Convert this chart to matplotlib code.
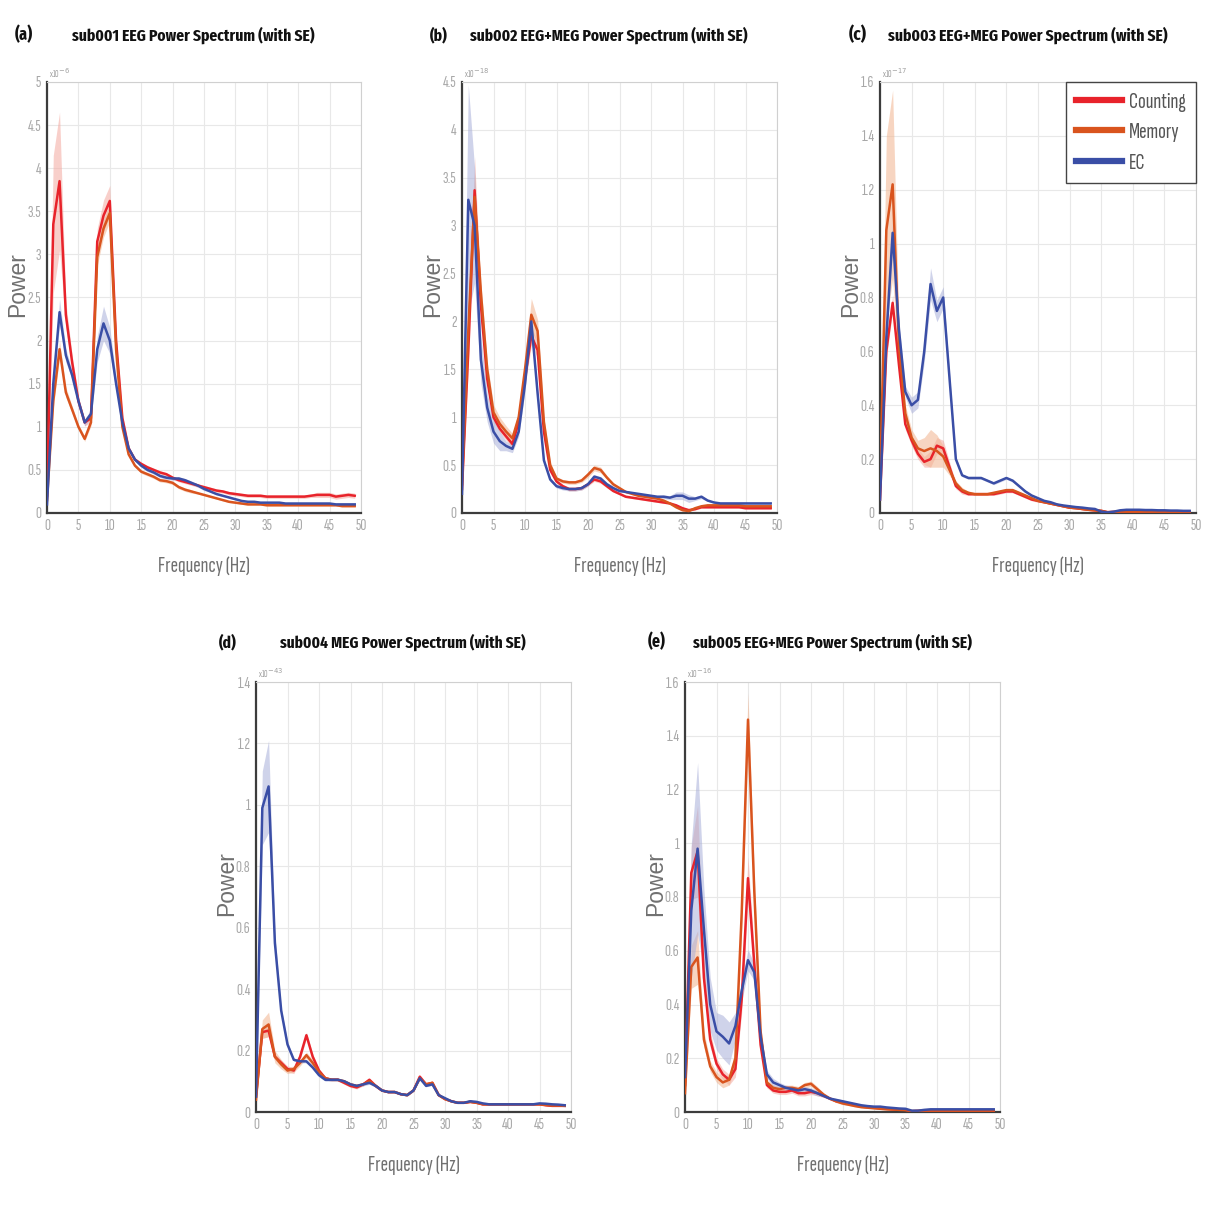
import numpy as np
import matplotlib
matplotlib.use("Agg")
import matplotlib.pyplot as plt
from matplotlib import font_manager as fm

# ---------- font selection (condensed faces if available) ----------
_weights = {}
for f in fm.fontManager.ttflist:
    w = f.weight
    if isinstance(w, str):
        w = fm.weight_dict.get(w, 400)
    _weights.setdefault(f.name, set()).add(int(w))

_cands = ['Sofia Sans Extra Condensed', 'Fira Sans Extra Condensed', 'Barlow Condensed', 'Saira Extra Condensed',
          'Roboto Condensed', 'Archivo Narrow', 'Fira Sans Condensed', 'PT Sans Narrow', 'Liberation Sans Narrow',
          'Liberation Sans', 'DejaVu Sans']


def pick(bold):
    for n in _cands:
        ws = _weights.get(n)
        if not ws:
            continue
        if bold and max(ws) >= 700:
            return n
        if not bold and min(ws) <= 400:
            return n
    return 'DejaVu Sans'


BOLDF = pick(True)
LIGHTF = pick(False)
LIGHTW = 300 if LIGHTF in _weights and min(_weights[LIGHTF]) <= 300 else 400
REG = 'Liberation Sans' if 'Liberation Sans' in _weights else 'DejaVu Sans'

freq = list(range(50))
conditions = ["Counting", "Memory", "EC"]

# ---------------- sub001 (x1e-6) ----------------
cnt_a = [0.20, 3.35, 3.85, 2.30, 1.75, 1.30, 1.05, 1.10, 3.15, 3.45, 3.62, 2.00, 1.10, 0.75, 0.62, 0.57, 0.53, 0.50, 0.47, 0.45,
         0.41, 0.38, 0.36, 0.34, 0.32, 0.30, 0.28, 0.26, 0.25, 0.23, 0.22, 0.21, 0.20, 0.20, 0.20, 0.19, 0.19, 0.19, 0.19, 0.19,
         0.19, 0.19, 0.20, 0.21, 0.21, 0.21, 0.19, 0.20, 0.21, 0.20]
mem_a = [0.15, 1.30, 1.90, 1.40, 1.20, 1.00, 0.86, 1.05, 2.97, 3.30, 3.48, 1.90, 1.00, 0.68, 0.55, 0.48, 0.45, 0.42, 0.38, 0.37,
         0.35, 0.30, 0.27, 0.25, 0.23, 0.21, 0.19, 0.17, 0.15, 0.13, 0.12, 0.11, 0.10, 0.10, 0.10, 0.09, 0.09, 0.09, 0.09, 0.09,
         0.09, 0.09, 0.09, 0.09, 0.09, 0.09, 0.09, 0.08, 0.08, 0.08]
ec_a = [0.10, 1.50, 2.33, 1.83, 1.60, 1.30, 1.05, 1.15, 1.90, 2.20, 2.00, 1.50, 1.05, 0.75, 0.62, 0.55, 0.50, 0.47, 0.43, 0.41,
        0.40, 0.40, 0.38, 0.35, 0.32, 0.28, 0.25, 0.22, 0.20, 0.18, 0.16, 0.14, 0.13, 0.13, 0.12, 0.12, 0.12, 0.12, 0.11, 0.11,
        0.11, 0.11, 0.11, 0.11, 0.11, 0.11, 0.10, 0.10, 0.10, 0.10]
se_cnt_a = [0.05, 0.80, 0.80, 0.15, 0.08, 0.05, 0.04, 0.05, 0.15, 0.18, 0.18, 0.10, 0.05, 0.03, 0.02, 0.02, 0.02, 0.02, 0.02, 0.02,
            0.02, 0.02, 0.02, 0.02, 0.02, 0.02, 0.02, 0.02, 0.02, 0.02, 0.02, 0.02, 0.02, 0.02, 0.02, 0.02, 0.02, 0.02, 0.02, 0.02,
            0.02, 0.02, 0.02, 0.03, 0.03, 0.03, 0.03, 0.03, 0.03, 0.03]
se_mem_a = [0.02, 0.08, 0.10, 0.06, 0.04, 0.03, 0.03, 0.04, 0.10, 0.10, 0.10, 0.06, 0.03, 0.02, 0.02, 0.02, 0.02, 0.02, 0.02, 0.02,
            0.02, 0.02, 0.02, 0.02, 0.01, 0.01, 0.01, 0.01, 0.01, 0.01, 0.01, 0.01, 0.01, 0.01, 0.01, 0.01, 0.01, 0.01, 0.01, 0.01,
            0.01, 0.01, 0.01, 0.01, 0.01, 0.01, 0.01, 0.01, 0.01, 0.01]
se_ec_a = [0.02, 0.10, 0.15, 0.08, 0.05, 0.04, 0.04, 0.05, 0.15, 0.20, 0.15, 0.08, 0.04, 0.02, 0.02, 0.02, 0.02, 0.02, 0.02, 0.02,
           0.02, 0.02, 0.02, 0.02, 0.02, 0.02, 0.01, 0.01, 0.01, 0.01, 0.01, 0.01, 0.01, 0.01, 0.01, 0.01, 0.01, 0.01, 0.01, 0.01,
           0.01, 0.01, 0.01, 0.01, 0.01, 0.01, 0.01, 0.01, 0.01, 0.01]

# ---------------- sub002 (x1e-18) ----------------
cnt_b = [0.25, 1.70, 3.37, 2.17, 1.40, 1.00, 0.88, 0.80, 0.72, 0.95, 1.40, 1.85, 1.70, 0.85, 0.45, 0.33, 0.28, 0.25, 0.25, 0.26,
         0.30, 0.35, 0.33, 0.28, 0.23, 0.20, 0.17, 0.16, 0.15, 0.14, 0.13, 0.12, 0.11, 0.10, 0.08, 0.05, 0.03, 0.04, 0.06, 0.06,
         0.06, 0.06, 0.06, 0.06, 0.06, 0.05, 0.05, 0.05, 0.05, 0.05]
mem_b = [0.30, 1.90, 3.30, 2.30, 1.50, 1.05, 0.93, 0.85, 0.78, 1.00, 1.50, 2.07, 1.90, 0.95, 0.50, 0.36, 0.33, 0.32, 0.32, 0.34,
         0.40, 0.47, 0.45, 0.37, 0.30, 0.26, 0.22, 0.20, 0.18, 0.17, 0.16, 0.15, 0.13, 0.10, 0.06, 0.03, 0.02, 0.05, 0.07, 0.08,
         0.08, 0.08, 0.08, 0.08, 0.08, 0.07, 0.07, 0.07, 0.07, 0.07]
ec_b = [0.20, 3.27, 3.00, 1.60, 1.10, 0.85, 0.75, 0.70, 0.67, 0.85, 1.35, 2.00, 1.25, 0.55, 0.35, 0.28, 0.26, 0.25, 0.25, 0.26,
        0.30, 0.38, 0.36, 0.30, 0.26, 0.23, 0.22, 0.21, 0.20, 0.19, 0.18, 0.17, 0.17, 0.16, 0.18, 0.18, 0.15, 0.15, 0.17, 0.13,
        0.11, 0.10, 0.10, 0.10, 0.10, 0.10, 0.10, 0.10, 0.10, 0.10]
se_cnt_b = [0.03, 0.20, 0.35, 0.15, 0.08, 0.05, 0.04, 0.04, 0.04, 0.05, 0.08, 0.10, 0.08, 0.04, 0.02, 0.02, 0.02, 0.02, 0.02, 0.02,
            0.02, 0.02, 0.02, 0.02, 0.01, 0.01, 0.01, 0.01, 0.01, 0.01, 0.01, 0.01, 0.01, 0.01, 0.01, 0.01, 0.01, 0.01, 0.01, 0.01,
            0.01, 0.01, 0.01, 0.01, 0.01, 0.01, 0.01, 0.01, 0.01, 0.01]
se_mem_b = [0.03, 0.15, 0.25, 0.12, 0.08, 0.08, 0.07, 0.06, 0.05, 0.06, 0.10, 0.17, 0.12, 0.05, 0.03, 0.02, 0.02, 0.02, 0.02, 0.02,
            0.03, 0.03, 0.03, 0.02, 0.02, 0.01, 0.01, 0.01, 0.01, 0.01, 0.01, 0.01, 0.01, 0.01, 0.01, 0.01, 0.01, 0.01, 0.01, 0.01,
            0.01, 0.01, 0.01, 0.01, 0.01, 0.01, 0.01, 0.01, 0.01, 0.01]
se_ec_b = [0.05, 1.20, 0.60, 0.25, 0.15, 0.12, 0.10, 0.05, 0.04, 0.05, 0.08, 0.08, 0.05, 0.03, 0.02, 0.02, 0.02, 0.02, 0.02, 0.02,
           0.02, 0.02, 0.02, 0.02, 0.02, 0.01, 0.01, 0.01, 0.01, 0.01, 0.01, 0.01, 0.02, 0.02, 0.04, 0.04, 0.04, 0.02, 0.02, 0.01,
           0.01, 0.01, 0.01, 0.01, 0.01, 0.01, 0.01, 0.01, 0.01, 0.01]

# ---------------- sub003 (x1e-17) ----------------
cnt_c = [0.05, 0.60, 0.78, 0.55, 0.33, 0.27, 0.22, 0.19, 0.20, 0.25, 0.24, 0.17, 0.10, 0.08, 0.07, 0.07, 0.07, 0.07, 0.07, 0.075,
         0.08, 0.08, 0.07, 0.06, 0.05, 0.045, 0.04, 0.035, 0.03, 0.025, 0.02, 0.018, 0.015, 0.012, 0.01, 0.008, 0.003, 0.004, 0.005, 0.005,
         0.005, 0.005, 0.005, 0.005, 0.005, 0.005, 0.005, 0.005, 0.005, 0.005]
mem_c = [0.10, 1.05, 1.22, 0.62, 0.37, 0.28, 0.24, 0.23, 0.24, 0.23, 0.21, 0.16, 0.11, 0.085, 0.075, 0.07, 0.07, 0.07, 0.075, 0.08,
         0.085, 0.085, 0.075, 0.065, 0.055, 0.045, 0.04, 0.035, 0.03, 0.025, 0.02, 0.018, 0.015, 0.012, 0.01, 0.008, 0.003, 0.004, 0.005, 0.005,
         0.005, 0.005, 0.005, 0.005, 0.005, 0.005, 0.005, 0.005, 0.005, 0.005]
ec_c = [0.05, 0.65, 1.04, 0.68, 0.45, 0.40, 0.42, 0.60, 0.85, 0.75, 0.80, 0.50, 0.20, 0.14, 0.13, 0.13, 0.13, 0.12, 0.11, 0.12,
        0.13, 0.12, 0.10, 0.08, 0.065, 0.055, 0.045, 0.04, 0.032, 0.028, 0.025, 0.022, 0.02, 0.017, 0.015, 0.005, 0.002, 0.005, 0.01, 0.012,
        0.012, 0.012, 0.011, 0.011, 0.01, 0.01, 0.009, 0.009, 0.008, 0.008]
se_cnt_c = [0.01, 0.03, 0.03, 0.02, 0.02, 0.02, 0.02, 0.02, 0.03, 0.03, 0.03, 0.02, 0.01, 0.01, 0.005, 0.005, 0.005, 0.005, 0.005, 0.005,
            0.005, 0.005, 0.005, 0.005, 0.005, 0.005, 0.003, 0.003, 0.003, 0.003, 0.003, 0.003, 0.003, 0.003, 0.003, 0.003, 0.003, 0.003, 0.003, 0.003,
            0.003, 0.003, 0.003, 0.003, 0.003, 0.003, 0.003, 0.003, 0.003, 0.003]
se_mem_c = [0.03, 0.35, 0.35, 0.08, 0.03, 0.03, 0.03, 0.05, 0.07, 0.06, 0.04, 0.02, 0.01, 0.01, 0.005, 0.005, 0.005, 0.005, 0.005, 0.005,
            0.005, 0.005, 0.005, 0.005, 0.005, 0.005, 0.003, 0.003, 0.003, 0.003, 0.003, 0.003, 0.003, 0.003, 0.003, 0.003, 0.003, 0.003, 0.003, 0.003,
            0.003, 0.003, 0.003, 0.003, 0.003, 0.003, 0.003, 0.003, 0.003, 0.003]
se_ec_c = [0.01, 0.04, 0.05, 0.03, 0.02, 0.03, 0.03, 0.04, 0.06, 0.04, 0.04, 0.02, 0.01, 0.005, 0.005, 0.005, 0.005, 0.005, 0.005, 0.005,
           0.005, 0.005, 0.005, 0.005, 0.003, 0.003, 0.003, 0.003, 0.003, 0.003, 0.003, 0.003, 0.003, 0.003, 0.003, 0.003, 0.003, 0.003, 0.003, 0.003,
           0.003, 0.003, 0.003, 0.003, 0.003, 0.003, 0.003, 0.003, 0.003, 0.003]

# ---------------- sub004 (x1e-43) ----------------
cnt_d = [0.05, 0.26, 0.265, 0.18, 0.16, 0.14, 0.135, 0.18, 0.25, 0.18, 0.135, 0.11, 0.105, 0.105, 0.095, 0.085, 0.08, 0.09, 0.105, 0.085,
         0.07, 0.065, 0.065, 0.058, 0.055, 0.07, 0.115, 0.09, 0.095, 0.055, 0.042, 0.035, 0.03, 0.03, 0.033, 0.03, 0.025, 0.025, 0.025, 0.025,
         0.025, 0.025, 0.025, 0.025, 0.025, 0.025, 0.022, 0.02, 0.02, 0.02]
mem_d = [0.04, 0.27, 0.285, 0.18, 0.155, 0.135, 0.14, 0.16, 0.185, 0.16, 0.13, 0.11, 0.105, 0.105, 0.10, 0.09, 0.085, 0.09, 0.10, 0.085,
         0.07, 0.065, 0.065, 0.058, 0.055, 0.07, 0.11, 0.09, 0.095, 0.055, 0.042, 0.035, 0.03, 0.03, 0.033, 0.03, 0.025, 0.025, 0.025, 0.025,
         0.025, 0.025, 0.025, 0.025, 0.025, 0.025, 0.023, 0.021, 0.021, 0.02]
ec_d = [0.05, 0.99, 1.06, 0.55, 0.33, 0.22, 0.17, 0.165, 0.165, 0.145, 0.12, 0.105, 0.105, 0.105, 0.10, 0.09, 0.085, 0.09, 0.095, 0.085,
        0.07, 0.065, 0.065, 0.058, 0.055, 0.07, 0.11, 0.085, 0.09, 0.055, 0.045, 0.035, 0.03, 0.03, 0.035, 0.033, 0.028, 0.025, 0.025, 0.025,
        0.025, 0.025, 0.025, 0.025, 0.025, 0.028, 0.027, 0.025, 0.024, 0.022]
se_cnt_d = [0.01, 0.02, 0.02, 0.01, 0.01, 0.01, 0.01, 0.01, 0.01, 0.01, 0.005, 0.005, 0.005, 0.005, 0.005, 0.005, 0.005, 0.005, 0.005, 0.005,
            0.003, 0.003, 0.003, 0.003, 0.003, 0.003, 0.005, 0.003, 0.003, 0.003, 0.002, 0.002, 0.002, 0.002, 0.002, 0.002, 0.002, 0.002, 0.002, 0.002,
            0.002, 0.002, 0.002, 0.002, 0.002, 0.002, 0.002, 0.002, 0.002, 0.002]
se_mem_d = [0.01, 0.03, 0.04, 0.02, 0.015, 0.01, 0.01, 0.01, 0.01, 0.01, 0.005, 0.005, 0.005, 0.005, 0.005, 0.005, 0.005, 0.005, 0.005, 0.005,
            0.003, 0.003, 0.003, 0.003, 0.003, 0.003, 0.005, 0.003, 0.003, 0.003, 0.002, 0.002, 0.002, 0.002, 0.002, 0.002, 0.002, 0.002, 0.002, 0.002,
            0.002, 0.002, 0.002, 0.002, 0.002, 0.002, 0.002, 0.002, 0.002, 0.002]
se_ec_d = [0.02, 0.12, 0.15, 0.03, 0.01, 0.01, 0.005, 0.005, 0.005, 0.005, 0.005, 0.005, 0.005, 0.005, 0.005, 0.005, 0.005, 0.005, 0.005, 0.005,
           0.003, 0.003, 0.003, 0.003, 0.003, 0.003, 0.005, 0.003, 0.003, 0.003, 0.002, 0.002, 0.002, 0.002, 0.002, 0.002, 0.002, 0.002, 0.002, 0.002,
           0.002, 0.002, 0.002, 0.002, 0.002, 0.002, 0.002, 0.002, 0.002, 0.002]

# ---------------- sub005 (x1e-16) ----------------
cnt_e = [0.10, 0.89, 0.97, 0.50, 0.27, 0.18, 0.14, 0.12, 0.16, 0.42, 0.87, 0.55, 0.25, 0.10, 0.08, 0.075, 0.075, 0.08, 0.07, 0.07,
         0.075, 0.07, 0.06, 0.05, 0.04, 0.035, 0.03, 0.025, 0.02, 0.018, 0.016, 0.014, 0.012, 0.01, 0.009, 0.008, 0.003, 0.004, 0.005, 0.005,
         0.005, 0.005, 0.005, 0.005, 0.005, 0.005, 0.005, 0.005, 0.005, 0.005]
mem_e = [0.07, 0.54, 0.575, 0.27, 0.17, 0.13, 0.11, 0.12, 0.20, 0.74, 1.46, 0.82, 0.30, 0.11, 0.09, 0.085, 0.09, 0.09, 0.085, 0.10,
         0.105, 0.085, 0.065, 0.05, 0.04, 0.032, 0.027, 0.022, 0.018, 0.016, 0.014, 0.012, 0.01, 0.009, 0.008, 0.007, 0.003, 0.004, 0.005, 0.005,
         0.005, 0.005, 0.005, 0.005, 0.005, 0.005, 0.005, 0.005, 0.005, 0.005]
ec_e = [0.13, 0.75, 0.98, 0.68, 0.40, 0.30, 0.28, 0.255, 0.32, 0.45, 0.565, 0.52, 0.28, 0.14, 0.11, 0.10, 0.09, 0.085, 0.08, 0.085,
        0.08, 0.07, 0.06, 0.05, 0.045, 0.04, 0.035, 0.03, 0.025, 0.022, 0.02, 0.02, 0.017, 0.015, 0.013, 0.012, 0.005, 0.005, 0.008, 0.01,
        0.01, 0.01, 0.01, 0.01, 0.01, 0.01, 0.01, 0.01, 0.01, 0.01]
se_cnt_e = [0.02, 0.10, 0.17, 0.05, 0.03, 0.02, 0.02, 0.02, 0.03, 0.05, 0.08, 0.05, 0.02, 0.01, 0.01, 0.01, 0.01, 0.01, 0.01, 0.01,
            0.01, 0.01, 0.005, 0.005, 0.005, 0.005, 0.003, 0.003, 0.003, 0.003, 0.003, 0.003, 0.003, 0.003, 0.003, 0.003, 0.003, 0.003, 0.003, 0.003,
            0.003, 0.003, 0.003, 0.003, 0.003, 0.003, 0.003, 0.003, 0.003, 0.003]
se_mem_e = [0.02, 0.08, 0.10, 0.03, 0.02, 0.02, 0.02, 0.02, 0.03, 0.06, 0.10, 0.06, 0.02, 0.01, 0.01, 0.01, 0.01, 0.01, 0.01, 0.01,
            0.01, 0.01, 0.005, 0.005, 0.005, 0.005, 0.003, 0.003, 0.003, 0.003, 0.003, 0.003, 0.003, 0.003, 0.003, 0.003, 0.003, 0.003, 0.003, 0.003,
            0.003, 0.003, 0.003, 0.003, 0.003, 0.003, 0.003, 0.003, 0.003, 0.003]
se_ec_e = [0.03, 0.25, 0.32, 0.15, 0.10, 0.07, 0.08, 0.08, 0.05, 0.04, 0.04, 0.03, 0.02, 0.015, 0.015, 0.01, 0.01, 0.01, 0.01, 0.01,
           0.01, 0.01, 0.005, 0.005, 0.005, 0.005, 0.003, 0.003, 0.003, 0.003, 0.003, 0.003, 0.003, 0.003, 0.003, 0.003, 0.003, 0.003, 0.003, 0.003,
           0.003, 0.003, 0.003, 0.003, 0.003, 0.003, 0.003, 0.003, 0.003, 0.003]

titles = ["sub001 EEG Power Spectrum (with SE)", "sub002 EEG+MEG Power Spectrum (with SE)",
          "sub003 EEG+MEG Power Spectrum (with SE)", "sub004 MEG Power Spectrum (with SE)",
          "sub005 EEG+MEG Power Spectrum (with SE)"]
panel_labels = ["(a)", "(b)", "(c)", "(d)", "(e)"]
exponents = [-6, -18, -17, -43, -16]
ymax = [5.0, 4.5, 1.6, 1.4, 1.6]
ystep = [0.5, 0.5, 0.2, 0.2, 0.2]
xticks = [0, 5, 10, 15, 20, 25, 30, 35, 40, 45, 50]

means = [(cnt_a, mem_a, ec_a), (cnt_b, mem_b, ec_b), (cnt_c, mem_c, ec_c), (cnt_d, mem_d, ec_d), (cnt_e, mem_e, ec_e)]
ses = [(se_cnt_a, se_mem_a, se_ec_a), (se_cnt_b, se_mem_b, se_ec_b), (se_cnt_c, se_mem_c, se_ec_c),
       (se_cnt_d, se_mem_d, se_ec_d), (se_cnt_e, se_mem_e, se_ec_e)]

line_colors = ["#e8232b", "#d9541e", "#3a4ea6"]
band_colors = ["#f4a9a0", "#f2b48f", "#a9afd9"]

W = 1208.0
boxes = [(47, 82, 361, 513), (462, 82, 777, 513), (880, 82, 1196, 513),
         (256, 682, 571, 1112), (685, 682, 1000, 1112)]
# label left x, label width, title left x, title width, y
title_pos = [(15, 17, 77, 233, 35), (430, 17, 475, 267, 35), (849, 17, 893, 269, 35),
             (219, 17, 285, 236, 642), (648, 17, 698, 268, 642)]

fig = plt.figure(figsize=(12.08, 12.08), dpi=100)
fig.patch.set_facecolor("white")
renderer = fig.canvas.get_renderer()


def fit(t, target_w, height_pt, cap=1.12):
    """Compromise size between matching the reference width and its letter height."""
    w = t.get_window_extent(renderer).width
    s_w = t.get_fontsize() * target_w / max(w, 1e-6)
    s = (s_w * height_pt) ** 0.5
    s = min(s, cap * s_w)
    t.set_fontsize(s)
    return s


probe = fig.text(0, 0, "4.5", fontsize=10, family=LIGHTF, fontweight=LIGHTW)
tick_size = fit(probe, 15.0, 11.0)
probe.remove()

for i in range(5):
    l, t, r, b = boxes[i]
    ax = fig.add_axes([l / W, 1 - b / W, (r - l) / W, (b - t) / W])
    for j in range(3):
        m = np.array(means[i][j])
        s = np.array(ses[i][j])
        ax.fill_between(freq, m - s, m + s, color=band_colors[j], alpha=0.55, lw=0, zorder=2)
    for j in range(3):
        ax.plot(freq, means[i][j], color=line_colors[j], lw=1.8, zorder=3 + j * 0.1, label=conditions[j])
    ax.set_xlim(0, 50)
    ax.set_ylim(0, ymax[i])
    ax.set_xticks(xticks)
    yt = np.round(np.arange(0, ymax[i] + 1e-9, ystep[i]), 3)
    ax.set_yticks(yt)
    ax.set_yticklabels([f"{v:g}" for v in yt])
    ax.grid(True, color="#e8e8e8", lw=0.8, zorder=0)
    ax.set_axisbelow(True)
    for side in ["left", "bottom"]:
        ax.spines[side].set_color("#3c3c3c")
        ax.spines[side].set_linewidth(1.6)
    for side in ["top", "right"]:
        ax.spines[side].set_color("#d0d0d0")
        ax.spines[side].set_linewidth(0.8)
    ax.tick_params(length=0, pad=4, labelsize=tick_size, labelcolor="#a8a8a8")
    for lab in ax.get_xticklabels() + ax.get_yticklabels():
        lab.set_fontfamily(LIGHTF)
        lab.set_fontweight(LIGHTW)
    ax.text(0.005, 1.004, r"x10$^{%d}$" % exponents[i], transform=ax.transAxes, fontsize=7,
            color="#a0a0a0", ha="left", va="bottom", family=LIGHTF)
    ax.set_ylabel("Power", fontsize=16.5, color="#707070", family=REG)
    ax.yaxis.set_label_coords(-0.058, 0.531)
    xl = ax.set_xlabel("Frequency (Hz)", fontsize=15, color="#707070", family=LIGHTF, fontweight=LIGHTW)
    fit(xl, 93.0, 16.0)
    ax.xaxis.set_label_coords(0.5, -0.1)

    lx, lw_, tx, tw, ty = title_pos[i]
    tl = fig.text((lx + lw_ / 2) / W, 1 - ty / W, panel_labels[i], fontsize=15, fontweight="bold", family=BOLDF,
                  ha="center", va="center", color="#111111")
    fit(tl, lw_, 15.0, cap=1.05)
    tt = fig.text((tx + tw / 2) / W, 1 - ty / W, titles[i], fontsize=15, fontweight="bold", family=BOLDF,
                  ha="center", va="center", color="#111111")
    fit(tt, tw, 15.0, cap=1.04)

    if i == 2:
        leg = ax.legend(loc="upper right", bbox_to_anchor=(1.0, 1.0), frameon=True, fancybox=False,
                        edgecolor="#444444", framealpha=1, prop={"family": LIGHTF, "weight": LIGHTW, "size": 16})
        ls = fit(leg.get_texts()[0], 55.0, 17.0)
        leg.remove()
        px = ls * 100 / 72.0
        leg = ax.legend(loc="upper right", bbox_to_anchor=(1.0, 1.0), frameon=True, fancybox=False,
                        edgecolor="#444444", framealpha=1, handlelength=46 / px, handletextpad=7 / px,
                        borderpad=0.45, borderaxespad=0.0, labelspacing=max(0.1, (33 - px) / px),
                        prop={"family": LIGHTF, "weight": LIGHTW, "size": ls})
        leg.get_frame().set_linewidth(1.0)
        for h in leg.get_lines():
            h.set_linewidth(4.5)
        for txt in leg.get_texts():
            txt.set_color("#555555")

fig.savefig("out.png", dpi=100, facecolor="white")
